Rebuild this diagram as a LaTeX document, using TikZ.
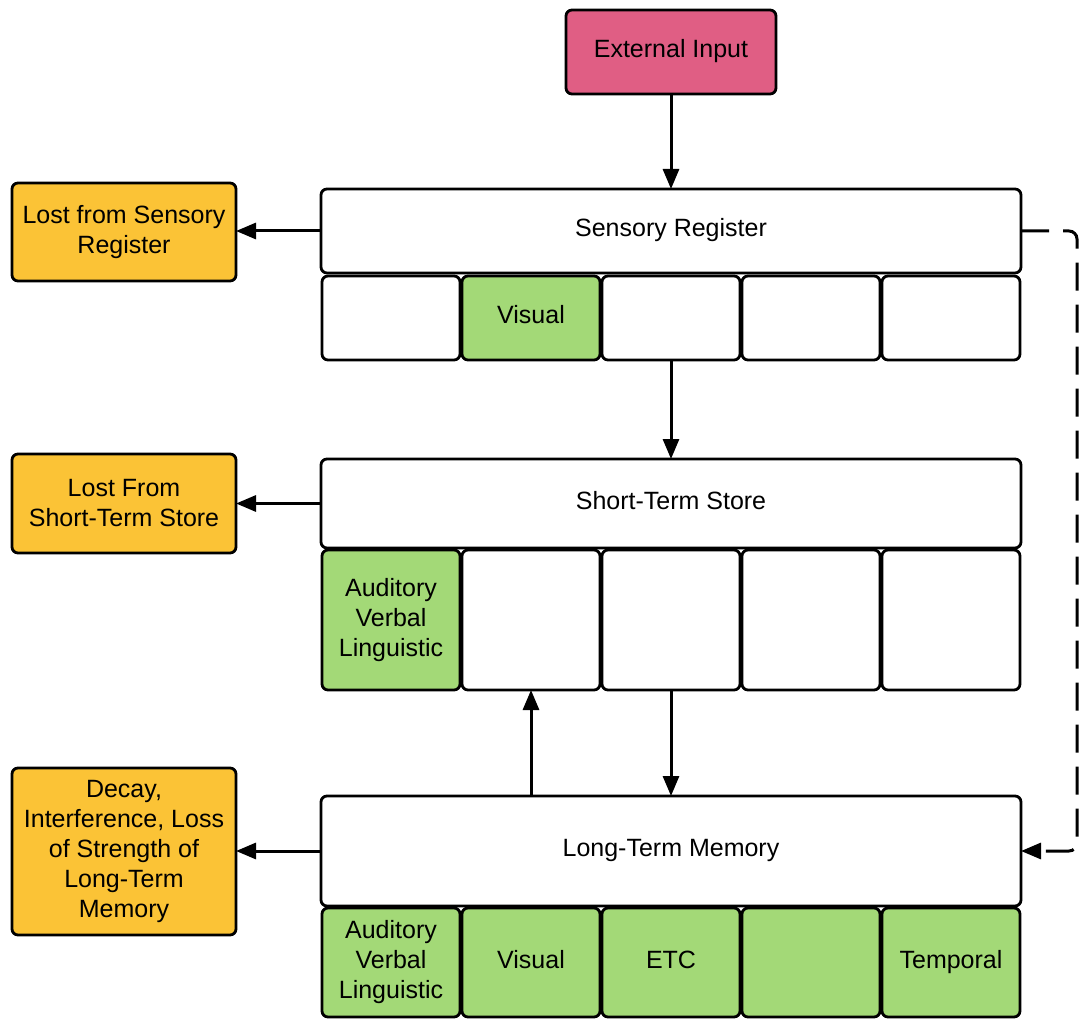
\documentclass[tikz,border=0pt]{standalone}
\usepackage{fontspec}
\setmainfont{Liberation Sans}
\usetikzlibrary{arrows.meta}
\definecolor{inputpink}{RGB}{224,94,132}
\definecolor{lostorange}{RGB}{251,195,54}
\definecolor{storegreen}{RGB}{163,217,119}
\tikzset{
  box/.style={draw=black, line width=2.8pt, rounded corners=6pt, fill=white,
    inner sep=0pt, outer sep=0pt, align=center,
    font=\fontsize{25}{30}\selectfont},
  oneline/.style={text height=18pt, text depth=7pt},
  store/.style={box, oneline, minimum width=700pt, minimum height=84pt},
  cell/.style={box, oneline, minimum width=138pt, minimum height=84pt},
  tallcell/.style={cell, minimum height=140pt},
  ltmcell/.style={cell, minimum height=109pt},
  lostbox/.style={box, fill=lostorange, minimum width=224pt},
  flow/.style={line width=3pt, -{Triangle[length=20pt,width=16pt]}},
  feedback/.style={flow, dash pattern=on 28pt off 14pt, rounded corners=8pt}
}
\begin{document}
\begin{tikzpicture}[x=1pt,y=-1pt]
\useasboundingbox (0,0) rectangle (1080,1019);

% input
\node[box, oneline, fill=inputpink, minimum width=210pt, minimum height=84pt] (input) at (671,52) {External Input};

% sensory register
\node[store] (sensory) at (671,231) {Sensory Register};
\node[cell] (s1) at (391,318) {};
\node[cell, fill=storegreen] (s2) at (531,318) {Visual};
\node[cell] (s3) at (671,318) {};
\node[cell] (s4) at (811,318) {};
\node[cell] (s5) at (951,318) {};

% short-term store
\node[store, minimum height=89pt] (sts) at (671,503.5) {Short-Term Store};
\node[box, fill=storegreen, minimum width=138pt, minimum height=140pt] (t1) at (391,620) {\raisebox{2pt}{\begin{tabular}{@{}c@{}}Auditory\\Verbal\\Linguistic\end{tabular}}};
\node[tallcell] (t2) at (531,620) {};
\node[tallcell] (t3) at (671,620) {};
\node[tallcell] (t4) at (811,620) {};
\node[tallcell] (t5) at (951,620) {};

% long-term memory
\node[store, minimum height=110pt] (ltm) at (671,851) {Long-Term Memory};
\node[box, fill=storegreen, minimum width=138pt, minimum height=109pt] (l1) at (391,962.5) {\raisebox{2pt}{\begin{tabular}{@{}c@{}}Auditory\\Verbal\\Linguistic\end{tabular}}};
\node[ltmcell, fill=storegreen] (l2) at (531,962.5) {Visual};
\node[ltmcell, fill=storegreen] (l3) at (671,962.5) {ETC};
\node[ltmcell, fill=storegreen] (l4) at (811,962.5) {};
\node[ltmcell, fill=storegreen] (l5) at (951,962.5) {Temporal};

% losses
\node[lostbox, minimum height=98pt] (lostS) at (124,232) {Lost from Sensory\\Register};
\node[lostbox, minimum height=99pt] (lostT) at (124,503.5) {Lost From\\Short-Term Store};
\node[lostbox, minimum height=167pt] (lostL) at (124,851.5) {Decay,\\Interference, Loss\\of Strength of\\Long-Term\\Memory};

% connectors
\draw[flow] (input.south) -- (sensory.north);
\draw[flow] (s3.south) -- (sts.north);
\draw[flow] (t3.south) -- (ltm.north);
\draw[flow] (ltm.north -| t2.south) -- (t2.south);
\draw[flow] (sensory.west) -- (lostS.east |- sensory.west);
\draw[flow] (sts.west) -- (lostT.east |- sts.west);
\draw[flow] (ltm.west) -- (lostL.east |- ltm.west);
\coordinate (loopTop) at (1077,231);
\coordinate (loopBot) at (1077,851);
\draw[feedback] (sensory.east) -- (loopTop) -- (loopBot) -- (ltm.east);
\end{tikzpicture}
\end{document}
